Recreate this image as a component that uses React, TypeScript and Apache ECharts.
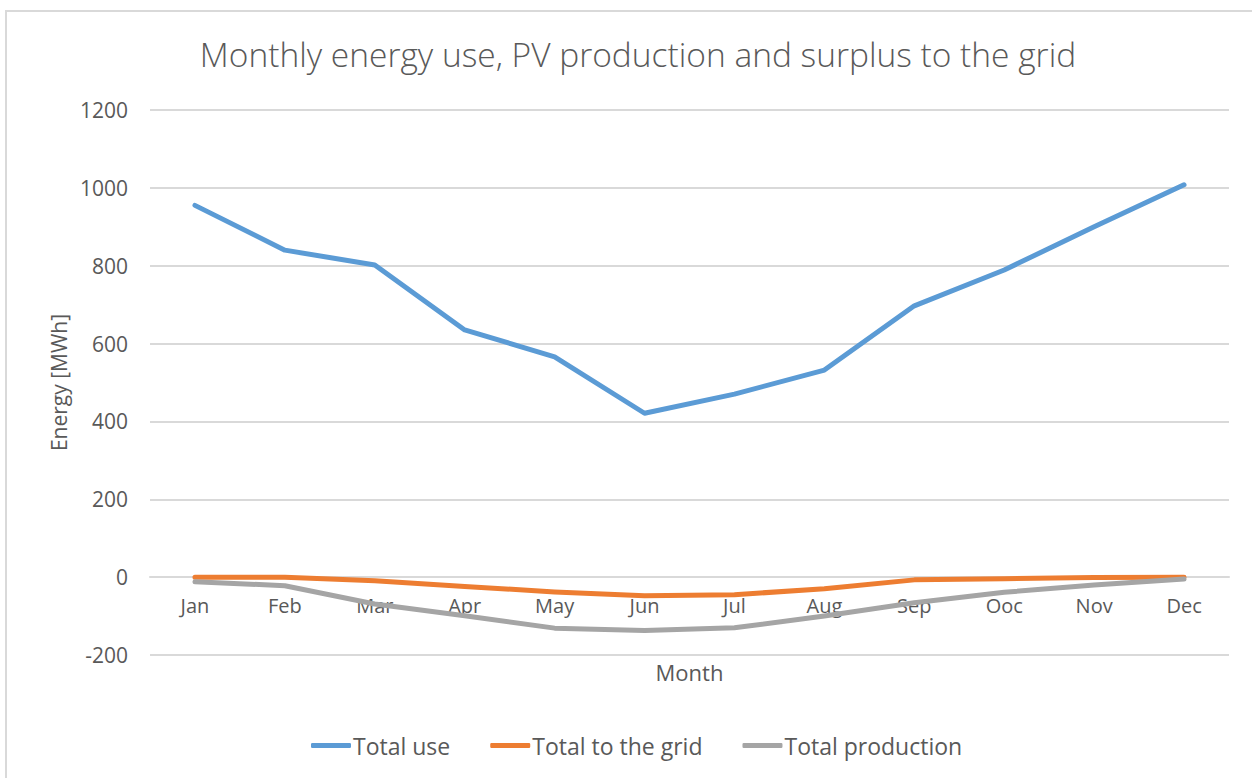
import React, { useEffect, useRef } from "react";
import * as echarts from "echarts";

const months = ["Jan", "Feb", "Mar", "Apr", "May", "Jun", "Jul", "Aug", "Sep", "Ooc", "Nov", "Dec"];
const totalUse = [955, 840, 802, 635, 566, 421, 470, 532, 697, 789, 900, 1008];
const totalToGrid = [0, 0, -9, -24, -38, -48, -45, -30, -7, -4, -1, 0];
const totalProduction = [-12, -22, -69, -99, -131, -137, -130, -100, -66, -39, -20, -5];
const yTicks = { min: -200, max: 1200, interval: 200 };

const FONT = "'Open Sans', 'Noto Sans', sans-serif";
const TXT = "#595959";

export default function App() {
  const ref = useRef<HTMLDivElement>(null);
  useEffect(() => {
    document.body.style.margin = "0";
    const chart = echarts.init(ref.current!, null, { renderer: "svg" });
    const mk = (name: string, data: number[], color: string) => ({
      name,
      type: "line",
      data,
      symbol: "none",
      lineStyle: { width: 5, color, cap: "round", join: "round" },
      itemStyle: { color },
    });
    const gridTop = 110;
    const gridBottom = 123;
    const plotH = 778 - gridTop - gridBottom;
    const zeroOffset = -plotH * (0 - yTicks.min) / (yTicks.max - yTicks.min);
    chart.setOption({
      animation: false,
      backgroundColor: "#ffffff",
      textStyle: { fontFamily: FONT },
      title: {
        text: "Monthly energy use, PV production and surplus to the grid",
        left: 633,
        top: 32,
        textAlign: "center",
        textStyle: { fontFamily: FONT, fontSize: 33.5, fontWeight: 300, color: TXT },
      },
      graphic: [
        {
          type: "rect",
          shape: { x: 6, y: 11, width: 1300, height: 820 },
          style: { fill: "none", stroke: "#d9d9d9", lineWidth: 2 },
          silent: true,
        },
      ],
      grid: { left: 150, right: 23, top: gridTop, bottom: gridBottom },
      legend: {
        bottom: 16,
        left: 306,
        itemWidth: 40,
        itemHeight: 5,
        itemGap: 40,
        icon: "roundRect",
        textStyle: { fontFamily: FONT, fontSize: 23, color: TXT, padding: [0, 0, 0, -3] },
        data: ["Total use", "Total to the grid", "Total production"],
      },
      xAxis: {
        type: "category",
        data: months,
        boundaryGap: true,
        name: "Month",
        nameLocation: "middle",
        nameGap: 84,
        offset: zeroOffset,
        nameTextStyle: { fontFamily: FONT, fontSize: 22, color: TXT },
        axisLine: { show: true, onZero: false, lineStyle: { color: "#d9d9d9", width: 2 } },
        axisTick: { show: false },
        axisLabel: { margin: 18, fontFamily: FONT, fontSize: 20, color: TXT },
      },
      yAxis: {
        type: "value",
        min: yTicks.min,
        max: yTicks.max,
        interval: yTicks.interval,
        name: "Energy [MWh]",
        nameLocation: "middle",
        nameGap: 78,
        nameTextStyle: { fontFamily: FONT, fontSize: 21, color: TXT },
        axisLine: { show: false },
        axisTick: { show: false },
        axisLabel: { margin: 22, fontFamily: FONT, fontSize: 21, color: TXT, formatter: (v: number) => String(v) },
        splitLine: { lineStyle: { color: "#d9d9d9", width: 2 } },
      },
      series: [
        mk("Total use", totalUse, "#5b9bd5"),
        mk("Total to the grid", totalToGrid, "#ed7d31"),
        mk("Total production", totalProduction, "#a5a5a5"),
      ],
    });
    return () => chart.dispose();
  }, []);
  return <div ref={ref} style={{ width: 1252, height: 778 }} />;
}
